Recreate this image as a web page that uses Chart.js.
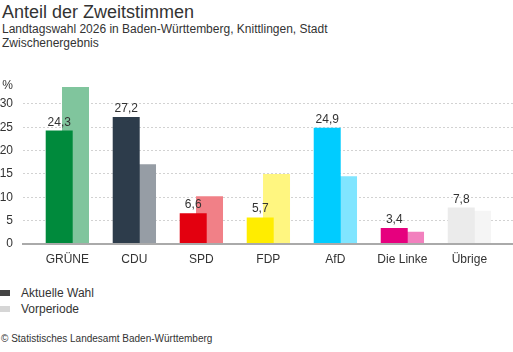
<!DOCTYPE html>
<html>
<head>
<meta charset="utf-8">
<script src="https://cdn.jsdelivr.net/npm/chart.js@4"></script>
<style>
  body { margin: 0; width: 513px; height: 352px; position: relative; overflow: hidden;
         font-family: "Liberation Sans", Arial, sans-serif; color: #333; background: #fff; }
  .title { position: absolute; left: 2px; top: 2px; font-size: 18px; line-height: 20px; }
  .sub { position: absolute; left: 2px; top: 22px; font-size: 12px; line-height: 14px; }
  #wrap { position: absolute; left: 0; top: 68px; width: 513px; height: 207px; }
  .legend { position: absolute; left: 0; font-size: 12px; line-height: 14px; }
  .legend span { display: inline-block; width: 10px; height: 6px; margin-right: 11px; vertical-align: 1px; }
  .foot { position: absolute; left: 1px; top: 333px; font-size: 10px; line-height: 12px; }
</style>
</head>
<body>
<div class="title">Anteil der Zweitstimmen</div>
<div class="sub">Landtagswahl 2026 in Baden-Württemberg, Knittlingen, Stadt<br>Zwischenergebnis</div>
<div id="wrap"><canvas id="chart"></canvas></div>
<div class="legend" style="top:286px"><span style="background:#444"></span>Aktuelle Wahl</div>
<div class="legend" style="top:302px"><span style="background:#d6d6d6"></span>Vorperiode</div>
<div class="foot">© Statistisches Landesamt Baden-Württemberg</div>
<script>
const parties = ["GRÜNE", "CDU", "SPD", "FDP", "AfD", "Die Linke", "Übrige"];
const current = [24.3, 27.2, 6.6, 5.7, 24.9, 3.4, 7.8];
const previous = [33.6, 17.1, 10.2, 15.0, 14.5, 2.6, 7.1];
const currentColors = ["#008a3c", "#2d3c4b", "#e3000f", "#ffed00", "#00ccff", "#e6007e", "#ebebeb"];
const previousColors = ["#80c59d", "#969da5", "#f18087", "#fff680", "#80e5ff", "#f280be", "#f5f5f5"];
const yTicks = [0, 5, 10, 15, 20, 25, 30];
const yMax = 34;

const fmt = v => v.toFixed(1).replace(".", ",");

const valueLabels = {
  id: "valueLabels",
  afterDatasetsDraw(chart) {
    const ctx = chart.ctx;
    const meta = chart.getDatasetMeta(0);
    ctx.save();
    ctx.font = "12px 'Liberation Sans', Arial, sans-serif";
    ctx.fillStyle = "#333";
    ctx.textAlign = "center";
    ctx.textBaseline = "alphabetic";
    meta.data.forEach((bar, i) => {
      ctx.fillText(fmt(current[i]), bar.x, bar.y - 5);
    });
    ctx.restore();
  }
};

new Chart(document.getElementById("chart"), {
  type: "bar",
  data: {
    datasets: [
      { label: "Aktuelle Wahl", data: current.map((v, i) => ({ x: i, y: v })), backgroundColor: currentColors },
      { label: "Vorperiode", data: previous.map((v, i) => ({ x: i, y: v })), backgroundColor: previousColors }
    ]
  },
  options: {
    responsive: true,
    maintainAspectRatio: false,
    animation: false,
    categoryPercentage: 0.4866,
    barPercentage: 1.656,
    layout: { padding: { top: 10, left: 0, right: 0, bottom: 0 } },
    plugins: { legend: { display: false }, tooltip: { enabled: false } },
    scales: {
      x: {
        type: "linear",
        offset: false,
        min: -0.662,
        max: 6.651,
        afterBuildTicks: axis => { axis.ticks = parties.map((p, i) => ({ value: i })); },
        afterFit: axis => { axis.height = 31; },
        grid: { display: false, offset: false },
        border: { display: true, color: "#aaa", width: 2, z: 1 },
        ticks: {
          padding: 0,
          color: "#333",
          font: { size: 12, family: "'Liberation Sans', Arial, sans-serif" },
          callback: v => parties[v]
        }
      },
      y: {
        min: 0,
        max: yMax,
        afterBuildTicks: axis => { axis.ticks = yTicks.concat([yMax]).map(v => ({ value: v })); },
        afterFit: axis => { axis.width = 23; },
        grid: {
          drawTicks: false,
          color: c => (c.tick && (c.tick.value === 0 || c.tick.value === yMax)) ? "rgba(0,0,0,0)" : "#d2d2d2",
          lineWidth: 1
        },
        border: { display: false, dash: [2, 2] },
        ticks: {
          padding: 10,
          color: "#333",
          font: { size: 12, family: "'Liberation Sans', Arial, sans-serif" },
          callback: v => v === yMax ? "%" : v
        }
      }
    }
  },
  plugins: [valueLabels]
});
</script>
</body>
</html>
